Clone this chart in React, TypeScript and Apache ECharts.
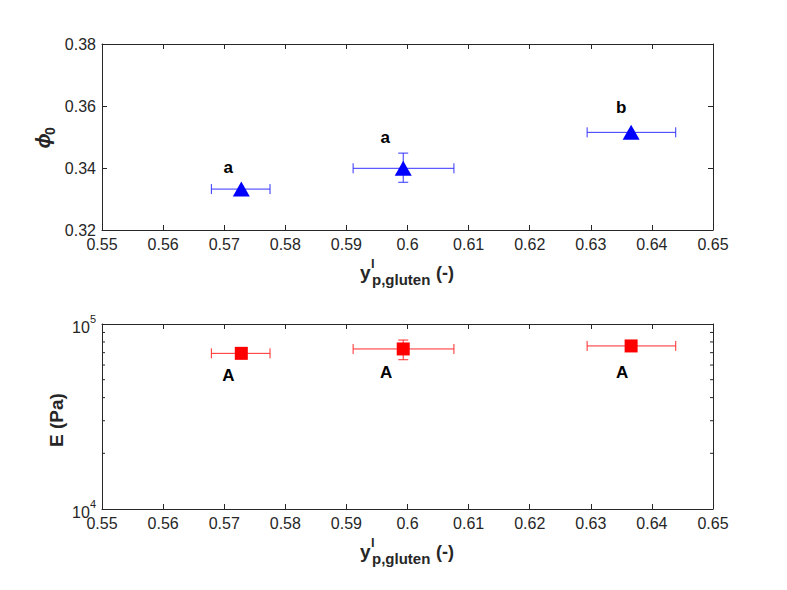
import React, { useEffect, useRef } from "react";
import * as echarts from "echarts";

// ---------- data ----------
const xVals = [0.5728, 0.5993, 0.6366];
const xErrLo = [0.5679, 0.5911, 0.6294];
const xErrHi = [0.5775, 0.6076, 0.6439];

const phiVals = [0.3332, 0.3399, 0.3515];
const phiErrLo = [0.3332, 0.3354, 0.3515];
const phiErrHi = [0.3332, 0.3448, 0.3515];

const eVals = [69400, 73300, 76100];
const eErrLo = [69400, 64100, 76100];
const eErrHi = [69400, 81900, 76100];

const topLetters = ["a", "a", "b"];
const bottomLetters = ["A", "A", "A"];

const xTickMin = 0.55;
const xTickMax = 0.65;
const xTickStep = 0.01;
const phiMin = 0.32;
const phiMax = 0.38;
const phiStep = 0.02;
const eMin = 1e4;
const eMax = 1e5;
const eMinorTicks = [2e4, 3e4, 4e4, 5e4, 6e4, 7e4, 8e4, 9e4];

// ---------- styles ----------
const FONT = '"Liberation Sans", Arial, Helvetica, sans-serif';
const AX = "#262626";
const topLetterOffsets = [[-13, -22], [-18, -31], [-10, -25]];
const bottomLetterOffsets = [[-13, 22], [-17, 24], [-9, 27]];

function errRender(color: string) {
  return (params: any, api: any) => {
    const x = api.value(0), y = api.value(1);
    const xl = api.value(2), xh = api.value(3), yl = api.value(4), yh = api.value(5);
    const pL = api.coord([xl, y]);
    const pH = api.coord([xh, y]);
    const st = { stroke: color, lineWidth: 1 };
    const cap = 5;
    const children: any[] = [
      { type: "line", shape: { x1: pL[0], y1: pL[1], x2: pH[0], y2: pH[1] }, style: st },
      { type: "line", shape: { x1: pL[0], y1: pL[1] - cap, x2: pL[0], y2: pL[1] + cap }, style: st },
      { type: "line", shape: { x1: pH[0], y1: pH[1] - cap, x2: pH[0], y2: pH[1] + cap }, style: st },
    ];
    if (yh > yl) {
      const pB = api.coord([x, yl]);
      const pT = api.coord([x, yh]);
      children.push(
        { type: "line", shape: { x1: pB[0], y1: pB[1], x2: pT[0], y2: pT[1] }, style: st },
        { type: "line", shape: { x1: pB[0] - cap, y1: pB[1], x2: pB[0] + cap, y2: pB[1] }, style: st },
        { type: "line", shape: { x1: pT[0] - cap, y1: pT[1], x2: pT[0] + cap, y2: pT[1] }, style: st }
      );
    }
    return { type: "group", children };
  };
}

function xAxisDef(gridIndex: number, position: string, showLabel: boolean) {
  return {
    type: "value",
    gridIndex,
    position,
    min: xTickMin,
    max: xTickMax,
    interval: xTickStep,
    axisLine: { show: true, onZero: false, lineStyle: { color: AX, width: 1 } },
    axisTick: { show: true, inside: true, length: 5, lineStyle: { color: AX } },
    axisLabel: { show: showLabel, color: AX, fontSize: 16, fontFamily: FONT, margin: 6 },
    splitLine: { show: false },
  };
}

function xLabelGraphics(bottom: number) {
  const base = { fill: AX, fontFamily: FONT, fontWeight: "bold", verticalAlign: "middle", align: "left" };
  return [
    { type: "text", x: 360, y: bottom + 42, style: { ...base, text: "y", fontSize: 19 } },
    { type: "text", x: 371, y: bottom + 33, style: { ...base, text: "l", fontSize: 13 } },
    { type: "text", x: 372, y: bottom + 49, style: { ...base, text: "p,gluten", fontSize: 15 } },
    { type: "text", x: 436, y: bottom + 43, style: { ...base, text: "(-)", fontSize: 18 } },
  ];
}

export default function App() {
  const ref = useRef<HTMLDivElement>(null);
  useEffect(() => {
    if (!ref.current) return;
    const chart = echarts.init(ref.current, undefined, { renderer: "svg" });
    const errTop = xVals.map((x, i) => [x, phiVals[i], xErrLo[i], xErrHi[i], phiErrLo[i], phiErrHi[i]]);
    const errBot = xVals.map((x, i) => [x, eVals[i], xErrLo[i], xErrHi[i], eErrLo[i], eErrHi[i]]);
    const letterLabel = (letters: string[], offsets: number[][]) =>
      xVals.map((x, i) => ({
        label: {
          show: true,
          position: "inside",
          offset: offsets[i],
          formatter: letters[i],
          color: "#000",
          fontSize: 17,
          fontWeight: "bold",
          fontFamily: FONT,
        },
      }));
    const topL = letterLabel(topLetters, topLetterOffsets);
    const botL = letterLabel(bottomLetters, bottomLetterOffsets);

    const option: any = {
      animation: false,
      backgroundColor: "#ffffff",
      grid: [
        { left: 102, right: 74, top: 44, height: 186 },
        { left: 102, right: 74, top: 324, height: 185 },
      ],
      xAxis: [
        xAxisDef(0, "bottom", true),
        xAxisDef(0, "top", false),
        xAxisDef(1, "bottom", true),
        xAxisDef(1, "top", false),
      ],
      yAxis: [
        {
          type: "value", gridIndex: 0, position: "left", min: phiMin, max: phiMax, interval: phiStep,
          axisLine: { show: true, onZero: false, lineStyle: { color: AX } },
          axisTick: { show: true, inside: true, length: 5, lineStyle: { color: AX } },
          axisLabel: { color: AX, fontSize: 16, fontFamily: FONT, margin: 6 },
          splitLine: { show: false },
        },
        {
          type: "value", gridIndex: 0, position: "right", min: phiMin, max: phiMax, interval: phiStep,
          axisLine: { show: true, onZero: false, lineStyle: { color: AX } },
          axisTick: { show: true, inside: true, length: 5, lineStyle: { color: AX } },
          axisLabel: { show: false },
          splitLine: { show: false },
        },
        {
          type: "log", gridIndex: 1, position: "left", min: eMin, max: eMax, logBase: 10,
          axisLine: { show: true, onZero: false, lineStyle: { color: AX } },
          axisTick: { show: true, inside: true, length: 5, lineStyle: { color: AX } },
          axisLabel: {
            color: AX, fontFamily: FONT, margin: 6,
            formatter: (v: number) => `{b|10}{s|${Math.round(Math.log10(v))}}`,
            rich: {
              b: { fontSize: 16, fontFamily: FONT, color: AX, verticalAlign: "bottom", lineHeight: 22 },
              s: { fontSize: 11, fontFamily: FONT, color: AX, verticalAlign: "top", lineHeight: 22 },
            },
          },
          splitLine: { show: false },
        },
        {
          type: "log", gridIndex: 1, position: "right", min: eMin, max: eMax, logBase: 10,
          axisLine: { show: true, onZero: false, lineStyle: { color: AX } },
          axisTick: { show: true, inside: true, length: 5, lineStyle: { color: AX } },
          axisLabel: { show: false },
          splitLine: { show: false },
        },
      ],
      series: [
        {
          type: "custom", xAxisIndex: 0, yAxisIndex: 0, renderItem: errRender("#3333ff"),
          data: errTop, z: 2, silent: true,
        },
        {
          type: "scatter", xAxisIndex: 0, yAxisIndex: 0, symbol: "triangle", symbolSize: [17, 15],
          itemStyle: { color: "#0000ff", opacity: 1 }, z: 3,
          data: xVals.map((x, i) => ({ value: [x, phiVals[i]], ...topL[i] })),
        },
        {
          type: "custom", xAxisIndex: 2, yAxisIndex: 2, renderItem: errRender("#ff2a2a"),
          data: errBot, z: 2, silent: true,
        },
        {
          type: "scatter", xAxisIndex: 2, yAxisIndex: 2, symbol: "rect", symbolSize: 13,
          itemStyle: { color: "#ff0000", opacity: 1 }, z: 3,
          data: xVals.map((x, i) => ({ value: [x, eVals[i]], ...botL[i] })),
        },
      ],
    };
    chart.setOption(option);

    // minor log ticks (positions via the axis scale)
    const xl = chart.convertToPixel({ xAxisIndex: 2 }, xTickMin) as number;
    const xr = chart.convertToPixel({ xAxisIndex: 2 }, xTickMax) as number;
    const minor: any[] = [];
    eMinorTicks.forEach((v) => {
      const y = chart.convertToPixel({ yAxisIndex: 2 }, v) as number;
      minor.push(
        { type: "line", shape: { x1: xl, y1: y, x2: xl + 3, y2: y }, style: { stroke: AX, lineWidth: 1 } },
        { type: "line", shape: { x1: xr, y1: y, x2: xr - 3, y2: y }, style: { stroke: AX, lineWidth: 1 } }
      );
    });

    const graphics: any[] = [
      ...minor,
      ...xLabelGraphics(230),
      ...xLabelGraphics(509),
      {
        type: "group", x: 43, y: 141, rotation: Math.PI / 2,
        children: [
          { type: "text", x: 0, y: 0, style: { text: "ϕ", fontSize: 20, fontStyle: "italic", fontWeight: "bold", fontFamily: FONT, fill: AX, align: "center", verticalAlign: "middle" } },
          { type: "text", x: 10, y: 7, style: { text: "0", fontSize: 14, fontWeight: "bold", fontFamily: FONT, fill: AX, align: "center", verticalAlign: "middle" } },
        ],
      },
      {
        type: "text", x: 56, y: 420, rotation: Math.PI / 2,
        style: { text: "E (Pa)", fontSize: 19, fontWeight: "bold", fontFamily: FONT, fill: AX, align: "center", verticalAlign: "middle" },
      },
    ];
    chart.setOption({ graphic: graphics });

    return () => chart.dispose();
  }, []);
  return <div ref={ref} style={{ position: "absolute", left: 0, top: 0, width: 787, height: 590 }} />;
}
